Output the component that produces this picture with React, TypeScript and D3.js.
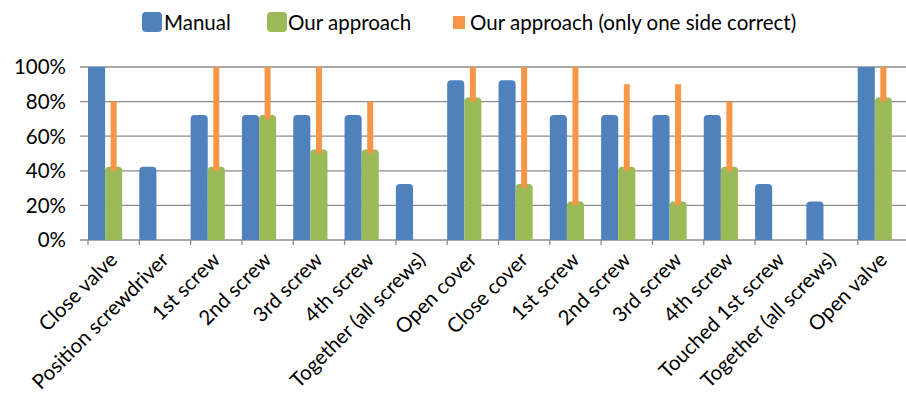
import React from "react";
import * as d3 from "d3";

const categories = [
  "Close valve",
  "Position screwdriver",
  "1st screw",
  "2nd screw",
  "3rd screw",
  "4th screw",
  "Together (all screws)",
  "Open cover",
  "Close cover",
  "1st screw",
  "2nd screw",
  "3rd screw",
  "4th screw",
  "Touched 1st screw",
  "Together (all screws)",
  "Open valve",
];

const manual = [1.0, 0.4, 0.7, 0.7, 0.7, 0.7, 0.3, 0.9, 0.9, 0.7, 0.7, 0.7, 0.7, 0.3, 0.2, 1.0];
const ourApproach = [0.4, 0, 0.4, 0.7, 0.5, 0.5, 0, 0.8, 0.3, 0.2, 0.4, 0.2, 0.4, 0, 0, 0.8];
const oneSideCorrect = [0.8, 0, 1.0, 1.0, 1.0, 0.8, 0, 1.0, 1.0, 1.0, 0.9, 0.9, 0.8, 0, 0, 1.0];

const yTicks = [0, 0.2, 0.4, 0.6, 0.8, 1.0];
const seriesNames = ["Manual", "Our approach", "Our approach (only one side correct)"];

const BLUE = "#4F81BD";
const GREEN = "#9BBB59";
const ORANGE = "#F79646";
const GRID = "#8C8C8C";
const FONT = "Lato, sans-serif";
const FS = 20.5;

const W = 906;
const H = 403;
const plot = { left: 88, right: 909, top: 67, bottom: 240 };

// Bar with rounded top corners; the rounded cap sits slightly above the value.
function roundedTopBar(x: number, w: number, yTop: number, yBottom: number, r: number) {
  const p = d3.path();
  p.moveTo(x, yBottom);
  p.lineTo(x, yTop + r);
  p.quadraticCurveTo(x, yTop, x + r, yTop);
  p.lineTo(x + w - r, yTop);
  p.quadraticCurveTo(x + w, yTop, x + w, yTop + r);
  p.lineTo(x + w, yBottom);
  p.closePath();
  return p.toString();
}

export default function App() {
  const x0 = d3
    .scaleBand<number>()
    .domain(categories.map((_, i) => i))
    .range([plot.left, plot.right])
    .paddingInner(0)
    .paddingOuter(0);
  const x1 = d3
    .scaleBand<number>()
    .domain([0, 1, 2])
    .range([0, x0.bandwidth()])
    .padding(0);
  const y = d3.scaleLinear().domain([0, 1]).range([plot.bottom, plot.top]);

  const bw = x1.bandwidth();
  const cap = 4;
  const orangeW = 6;

  return (
    <svg
      width={W}
      height={H}
      style={{ position: "absolute", left: 0, top: 0, background: "#fff" }}
      fontFamily={FONT}
    >
      <defs>
        <clipPath id="plotClip">
          <rect x={0} y={plot.top} width={W} height={plot.bottom - plot.top + 1} />
        </clipPath>
      </defs>

      {/* gridlines */}
      {yTicks.map((t) => (
        <line
          key={t}
          x1={plot.left - 8}
          x2={W}
          y1={y(t)}
          y2={y(t)}
          stroke={GRID}
          strokeWidth={1.3}
        />
      ))}

      {/* category tick marks */}
      {categories.map((_, i) => (
        <line
          key={i}
          x1={x0(i)!}
          x2={x0(i)!}
          y1={plot.bottom}
          y2={plot.bottom + 5}
          stroke={GRID}
          strokeWidth={1.3}
        />
      ))}

      {/* y tick labels */}
      {yTicks.map((t) => (
        <text
          key={t}
          x={66}
          y={y(t)}
          dy="0.36em"
          textAnchor="end"
          fontSize={FS}
          fill="#000"
        >
          {d3.format(".0%")(t)}
        </text>
      ))}

      <g clipPath="url(#plotClip)">
        {manual.map((v, i) =>
          v > 0 ? (
            <path
              key={"m" + i}
              d={roundedTopBar(x0(i)! + x1(0)!, bw, y(v) - cap, plot.bottom, 4)}
              fill={BLUE}
            />
          ) : null
        )}
        {ourApproach.map((v, i) =>
          v > 0 ? (
            <path
              key={"g" + i}
              d={roundedTopBar(x0(i)! + x1(1)!, bw, y(v) - cap, plot.bottom, 4)}
              fill={GREEN}
            />
          ) : null
        )}
        {oneSideCorrect.map((v, i) =>
          v > 0 ? (
            <rect
              key={"o" + i}
              x={x0(i)! + x1(1)! + bw / 2 - orangeW / 2}
              y={y(v)}
              width={orangeW}
              height={y(ourApproach[i]) - y(v)}
              fill={ORANGE}
            />
          ) : null
        )}
      </g>

      {/* category labels */}
      {categories.map((c, i) => {
        const cx = x0(i)! + x0.bandwidth() / 2;
        const ty = 256;
        return (
          <text
            key={"c" + i}
            transform={`translate(${cx},${ty}) rotate(-45)`}
            textAnchor="end"
            dy="0.35em"
            fontSize={FS}
            fill="#000"
          >
            {c}
          </text>
        );
      })}

      {/* legend */}
      <g fontSize={FS} fill="#000">
        <rect x={142} y={12} width={20} height={20} rx={4} fill={BLUE} />
        <text x={164} y={30}>{seriesNames[0]}</text>
        <rect x={267} y={12} width={20} height={20} rx={4} fill={GREEN} />
        <text x={288} y={30}>{seriesNames[1]}</text>
        <rect x={453} y={16} width={12} height={13} fill={ORANGE} />
        <text x={470} y={30}>{seriesNames[2]}</text>
      </g>
    </svg>
  );
}
